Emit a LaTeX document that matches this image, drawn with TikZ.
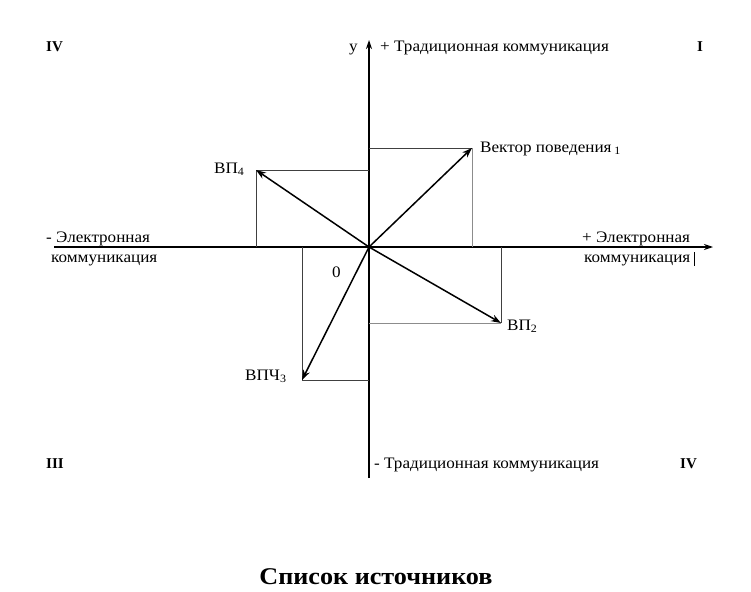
\documentclass[tikz,border=0pt]{standalone}
\usepackage{fontspec}
\setmainfont{Liberation Serif}
\usetikzlibrary{arrows.meta}
\newcommand{\wx}[1]{\scalebox{1.07}[1]{#1}}
\begin{document}
\begin{tikzpicture}[x=1pt,y=-1pt,
  lbl/.style={inner sep=0pt,font=\fontsize{16}{18}\selectfont},
  rom/.style={inner sep=0pt,font=\fontsize{15}{17}\selectfont\bfseries},
  axis/.style={line width=1.3pt,-{Stealth[length=9pt,width=6pt]}},
  vec/.style={line width=1.5pt,-{Stealth[length=10pt,width=7pt]}},
  boxd/.style={line width=0.9pt,black!75},
  boxl/.style={line width=0.9pt,black!45}]
\useasboundingbox (0,0) rectangle (751,591);
\coordinate (O) at (369,247);
\coordinate (ytop) at (369,40);
\coordinate (ybot) at (369,478);
\coordinate (xl) at (54,247);
\coordinate (xr) at (713,247);
\coordinate (v1) at (472,148);
\coordinate (v4) at (256,170);
\coordinate (v2) at (501,323);
\coordinate (v3) at (302,380);
% axes
\draw[axis] (ybot) -- (ytop);
\draw[axis] (xl) -- (xr);
% projection boxes
\draw[boxd] (O |- v1) -- (v1);
\draw[boxl] (v1) -- (v1 |- O);
\draw[boxd] (O |- v4) -- (v4);
\draw[boxd] (v4) -- (v4 |- O);
\draw[boxd] (v2 |- O) -- (v2);
\draw[boxl] (v2) -- (O |- v2);
\draw[boxd] (v3 |- O) -- (v3);
\draw[boxd] (v3) -- (O |- v3);
% vectors
\draw[vec] (O) -- (v1);
\draw[vec] (O) -- (v4);
\draw[vec] (O) -- (v2);
\draw[vec] (O) -- (v3);
% labels
\node[rom,anchor=base west] (q4a) at (46,52) {IV};
\node[rom,anchor=base west] (q1) at (697,52) {I};
\node[rom,anchor=base west] (q3) at (46,468) {III};
\node[rom,anchor=base west] (q4b) at (680,468) {IV};
\node[lbl,anchor=base west] (ylab) at (349,52) {\wx{y}};
\node[lbl,anchor=base west] (tplus) at (380,52) {\wx{+ Традиционная коммуникация}};
\node[lbl,anchor=base west] (tminus) at (374,468) {\wx{- Традиционная коммуникация}};
\node[lbl,anchor=base west] (l1) at (480,152) {\wx{Вектор поведения\,\textsubscript{1}}};
\node[lbl,anchor=base west] (l4) at (214,173) {\wx{ВП\textsubscript{4}}};
\node[lbl,anchor=base west] (l2) at (507,330) {\wx{ВП\textsubscript{2}}};
\node[lbl,anchor=base west] (l3) at (245,380) {\wx{ВПЧ\textsubscript{3}}};
\node[lbl,anchor=base west] (zero) at (332,277) {\wx{0}};
\node[lbl,anchor=base west] (el1) at (46,242) {\wx{- Электронная}};
\node[lbl,anchor=base west] (el2) at (51,262) {\wx{коммуникация}};
\node[lbl,anchor=base west] (er1) at (582,242) {\wx{+ Электронная}};
\node[lbl,anchor=base west] (er2) at (584,262) {\wx{коммуникация}};
\coordinate (tk1) at (694,252);
\coordinate (tk2) at (694,266);
\draw[line width=0.6pt] (tk1) -- (tk2);
\node[inner sep=0pt,anchor=base,font=\fontsize{24}{28}\selectfont\bfseries] (src) at (376,584) {\scalebox{1.09}[1]{Список источников}};
\end{tikzpicture}
\end{document}
